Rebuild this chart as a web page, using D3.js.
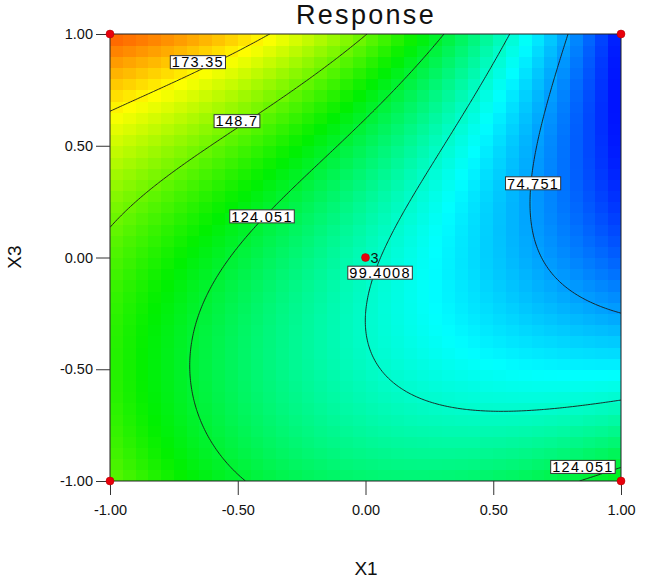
<!DOCTYPE html>
<html>
<head>
<meta charset="utf-8">
<script src="https://cdn.jsdelivr.net/npm/d3@7"></script>
<style>
  body { margin: 0; background: #fff; }
  text { font-family: "Liberation Sans", Arial, sans-serif; }
</style>
</head>
<body>
<svg id="chart" width="645" height="581"></svg>
<script>
// fitted response model: Y = sum coef * X1^p1 * X3^p3
var termNames = ["Intercept", "X1", "X3", "X1X3", "X1^2", "X3^2", "X1^2X3", "X1X3^2", "X1^2X3^2"];
var powX1 = [0, 1, 0, 1, 2, 0, 2, 1, 2];
var powX3 = [0, 0, 1, 1, 0, 2, 1, 2, 2];
var coefs = [101.8, -40.77, 17.12, -32.70, 2.17, 30.22, -24.17, -0.48, -3.09];

// colour ramp stops (response values) for blue, cyan, green, yellow, red
var colorStops = [50.1, 91, 132, 172, 212];
var colorNames = ["#0010ff", "#00ffff", "#00f000", "#ffff00", "#ff0000"];
var contourLevels = [74.751, 99.4008, 124.051, 148.7, 173.35];

// contour label anchors
var labelLevels = ["173.35", "148.7", "124.051", "74.751", "99.4008", "124.051"];
var labelX1 = [-0.656, -0.503, -0.405, 0.656, 0.057, 0.851];
var labelX3 = [0.874, 0.61, 0.184, 0.332, -0.068, -0.937];

// design points
var ptX1 = [-1, 1, -1, 1, 0];
var ptX3 = [1, 1, -1, -1, 0];
var ptReps = [1, 1, 1, 1, 3];

var tickVals = [-1, -0.5, 0, 0.5, 1];

function model(a, b) {
  var s = 0;
  for (var k = 0; k < coefs.length; k++) s += coefs[k] * Math.pow(a, powX1[k]) * Math.pow(b, powX3[k]);
  return s;
}

var svg = d3.select("#chart");
var pL = 110, pR = 621, pT = 34, pB = 481;
var x = d3.scaleLinear().domain([-1, 1]).range([pL, pR]);
var y = d3.scaleLinear().domain([-1, 1]).range([pB, pT]);

var color = d3.scaleLinear().domain(colorStops).range(colorNames).clamp(true);

svg.append("defs").append("clipPath").attr("id", "plotclip")
  .append("rect").attr("x", pL).attr("y", pT).attr("width", pR - pL).attr("height", pB - pT);

// pixelated heat map
var nc = 40;
var cells = [];
for (var j = 0; j < nc; j++) {
  for (var i = 0; i < nc; i++) {
    var a0 = -1 + 2 * i / nc, b0 = -1 + 2 * j / nc;
    cells.push({a0: a0, b0: b0, v: model(a0 + 1 / nc, b0 + 1 / nc)});
  }
}
var cw = (pR - pL) / nc, ch = (pB - pT) / nc;
svg.append("g").attr("clip-path", "url(#plotclip)")
  .selectAll("rect").data(cells).enter().append("rect")
  .attr("x", d => x(d.a0))
  .attr("y", d => y(d.b0 + 2 / nc))
  .attr("width", cw + 0.6)
  .attr("height", ch + 0.6)
  .attr("fill", d => color(d.v))
  .attr("shape-rendering", "crispEdges");

// contour lines
var N = 201;
var grid = new Array(N * N);
for (var j = 0; j < N; j++) {
  for (var i = 0; i < N; i++) {
    grid[j * N + i] = model(-1 + 2 * i / (N - 1), -1 + 2 * j / (N - 1));
  }
}
var contours = d3.contours().size([N, N]).thresholds(contourLevels)(grid);
var proj = d3.geoTransform({
  point: function(u, v) {
    this.stream.point(x(-1 + 2 * (u - 0.5) / (N - 1)), y(-1 + 2 * (v - 0.5) / (N - 1)));
  }
});
svg.append("g").attr("clip-path", "url(#plotclip)")
  .selectAll("path").data(contours).enter().append("path")
  .attr("d", d3.geoPath(proj))
  .attr("fill", "none")
  .attr("stroke", "#1a1a1a")
  .attr("stroke-width", 0.9);

// frame
svg.append("rect").attr("x", pL).attr("y", pT)
  .attr("width", pR - pL).attr("height", pB - pT)
  .attr("fill", "none").attr("stroke", "#222").attr("stroke-width", 1);

// axes
var fmt = d => d3.format(".2f")(d).replace("\u2212", "-");
var xAxis = svg.append("g").attr("transform", "translate(0," + pB + ")")
  .call(d3.axisBottom(x).tickValues(tickVals).tickFormat(fmt).tickSize(14).tickPadding(10));
var yAxis = svg.append("g").attr("transform", "translate(" + pL + ",0)")
  .call(d3.axisLeft(y).tickValues(tickVals).tickFormat(fmt).tickSize(14).tickPadding(3));
[xAxis, yAxis].forEach(function(g) {
  g.select(".domain").remove();
  g.selectAll("line").attr("stroke", "#333");
  g.selectAll("text").attr("font-size", 14.5).attr("fill", "#111")
    .attr("font-family", "Liberation Sans, Arial, sans-serif");
});

// contour labels
var lab = svg.append("g").selectAll("g").data(labelLevels).enter().append("g")
  .attr("transform", (d, k) => "translate(" + x(labelX1[k]) + "," + y(labelX3[k]) + ")");
lab.append("text")
  .attr("text-anchor", "middle").attr("dy", "0.36em")
  .attr("font-size", 14.5).attr("letter-spacing", 1.3).attr("fill", "#000")
  .text(d => d);
lab.each(function() {
  var g = d3.select(this);
  var bb = g.select("text").node().getBBox();
  g.insert("rect", "text")
    .attr("x", bb.x - 1.5).attr("y", -6.5)
    .attr("width", bb.width + 3).attr("height", 13)
    .attr("fill", "#fff").attr("stroke", "#333").attr("stroke-width", 1);
});

// design points
svg.append("g").selectAll("circle").data(ptX1).enter().append("circle")
  .attr("cx", (d, k) => x(d)).attr("cy", (d, k) => y(ptX3[k]))
  .attr("r", 4).attr("fill", "#e8000b").attr("stroke", "#b00000").attr("stroke-width", 0.5);
svg.append("g").selectAll("text").data(ptReps.filter(r => r > 1)).enter().append("text")
  .attr("x", x(0) + 5).attr("y", y(0) + 5)
  .attr("font-size", 14.5).attr("fill", "#111").text(d => d);

// titles
svg.append("text").attr("x", 366).attr("y", 24).attr("text-anchor", "middle")
  .attr("font-size", 27).attr("letter-spacing", 2.3).attr("fill", "#111").text("Response");
svg.append("text").attr("x", 366).attr("y", 575).attr("text-anchor", "middle")
  .attr("font-size", 19).attr("fill", "#111").text("X1");
svg.append("text").attr("transform", "translate(21,257) rotate(-90)").attr("text-anchor", "middle")
  .attr("font-size", 19).attr("fill", "#111").text("X3");
</script>
</body>
</html>
